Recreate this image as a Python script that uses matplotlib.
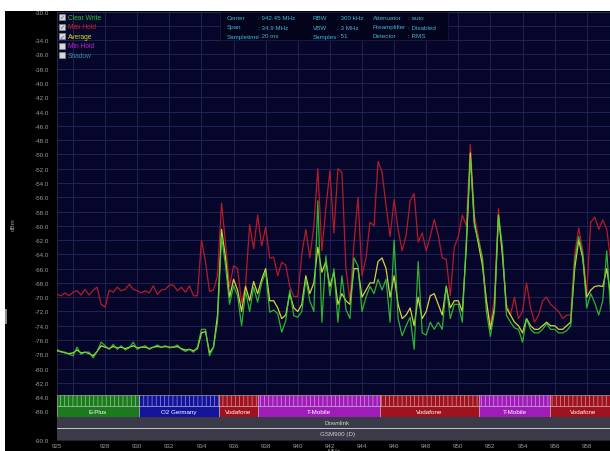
import numpy as np
import matplotlib
matplotlib.use("Agg")
import matplotlib.pyplot as plt
from matplotlib.patches import Rectangle
from matplotlib.ticker import MultipleLocator

plt.rcParams.update({
    "font.family": ["Liberation Sans", "DejaVu Sans"],
    "hatch.linewidth": 0.5,
})

W, H = 610, 452
BG, GRID, TXT = "#06062a", "#26265a", "#9c9c9c"
HDR = "#3cb8d0"

# ---- data ------------------------------------------------------------------
freqs = np.linspace(925.0, 959.75, 140)   # 0.25 MHz sample grid

max_hold = [
    -69.6, -69.8, -69.4, -69.8, -69.3, -69.1, -69.7, -68.9, -69.7, -69.0,
    -68.6, -71.0, -71.4, -69.0, -69.3, -68.6, -69.1, -68.9, -68.2, -68.9,
    -69.1, -69.4, -69.1, -69.4, -68.4, -69.6, -69.0, -68.9, -68.3, -68.3,
    -69.1, -68.6, -69.3, -68.4, -69.8, -69.8, -62.0, -65.0, -69.2, -69.0,
    -67.0, -56.8, -62.5, -68.5, -65.6, -66.0, -70.8, -68.3, -59.8, -63.2,
    -58.5, -62.8, -60.2, -64.5, -64.4, -67.0, -65.1, -65.5, -68.5, -69.9,
    -69.9, -64.0, -60.5, -64.5, -60.0, -52.0, -63.5, -57.5, -52.3, -61.0,
    -52.0, -52.5, -66.0, -70.5, -62.5, -56.0, -67.0, -64.5, -59.5, -60.0,
    -51.0, -52.5, -57.2, -61.5, -56.3, -60.5, -63.5, -61.3, -56.5, -55.5,
    -62.3, -61.0, -63.5, -61.5, -59.1, -61.3, -64.5, -64.7, -69.8, -63.0,
    -61.5, -58.5, -60.0, -48.6, -58.5, -61.5, -64.5, -70.5, -74.0, -70.0,
    -57.6, -64.5, -71.0, -72.5, -70.0, -73.0, -72.0, -68.0, -71.5, -73.5,
    -72.5, -70.5, -70.0, -71.0, -71.5, -72.0, -73.0, -72.5, -72.5, -64.0,
    -60.3, -63.5, -69.5, -59.5, -58.8, -60.5, -59.2, -60.5, -65.0, -70.0,
]

clear_write = [
    -77.3, -77.7, -77.7, -78.0, -78.2, -77.0, -78.0, -77.7, -77.7, -78.5,
    -77.6, -76.3, -76.8, -77.3, -76.6, -77.3, -76.8, -77.4, -77.1, -76.3,
    -77.3, -77.0, -76.8, -77.3, -77.0, -76.7, -77.0, -76.8, -77.1, -77.0,
    -76.7, -77.3, -77.6, -77.3, -77.7, -77.0, -74.5, -74.5, -78.2, -77.0,
    -73.5, -61.5, -65.6, -71.0, -68.4, -69.8, -74.0, -69.2, -72.0, -68.6,
    -70.7, -68.0, -66.5, -72.1, -71.8, -72.3, -74.9, -73.3, -69.0, -72.6,
    -72.8, -72.0, -67.5, -70.5, -72.0, -56.5, -73.5, -64.2, -69.8, -66.0,
    -73.5, -67.0, -71.7, -73.0, -64.5, -65.6, -72.0, -70.0, -68.5, -69.5,
    -67.5, -69.0, -67.5, -73.5, -62.0, -73.0, -75.4, -74.0, -72.8, -77.3,
    -65.0, -75.0, -75.3, -73.5, -74.5, -73.5, -74.5, -68.4, -73.0, -71.0,
    -71.0, -73.5, -62.0, -50.4, -60.0, -62.0, -64.5, -72.0, -75.5, -72.0,
    -58.5, -63.0, -72.5, -73.5, -74.3, -74.5, -76.3, -73.0, -74.5, -75.0,
    -75.0, -74.5, -73.7, -74.5, -74.5, -75.0, -75.0, -74.7, -74.0, -65.0,
    -61.5, -64.0, -71.5, -69.5, -70.8, -72.5, -70.5, -63.5, -72.5, -73.0,
]

average = [
    -77.5, -77.6, -77.8, -77.9, -77.8, -77.4, -77.8, -77.7, -77.9, -78.2,
    -77.6, -76.8, -77.0, -77.2, -76.9, -77.1, -77.0, -77.2, -77.0, -76.8,
    -77.1, -77.0, -77.0, -77.2, -77.0, -76.9, -77.0, -76.9, -77.0, -77.0,
    -76.9, -77.2, -77.4, -77.3, -77.5, -77.2, -75.0, -74.8, -77.8, -77.0,
    -72.5, -60.5, -64.5, -70.0, -67.5, -69.0, -72.0, -68.5, -70.5, -67.8,
    -69.5, -67.5, -66.0, -70.5, -70.5, -71.5, -73.0, -72.5, -69.5, -71.5,
    -72.0, -71.0, -67.0, -69.5, -68.0, -63.0, -66.5, -65.0, -68.5, -66.5,
    -71.0, -69.5, -70.5, -71.0, -66.0, -66.0, -70.0, -69.0, -68.0, -68.0,
    -65.0, -64.5, -66.0, -70.0, -67.0, -71.0, -73.0, -72.5, -71.5, -74.0,
    -70.0, -73.0, -72.0, -69.8, -69.5, -71.0, -72.5, -68.5, -71.5, -70.5,
    -70.5, -72.0, -63.0, -49.8, -59.5, -62.5, -65.5, -70.5, -74.5, -71.5,
    -58.5, -64.0, -71.5, -72.5, -73.5, -74.0, -75.0, -73.0, -74.0, -74.5,
    -74.5, -74.0, -73.5, -74.0, -74.0, -74.5, -74.5, -74.0, -73.5, -66.0,
    -62.0, -64.5, -70.0, -69.0, -68.5, -68.4, -68.5, -66.0, -70.0, -71.0,
]

band_names = ["E-Plus", "O2 Germany", "Vodafone", "T-Mobile", "Vodafone", "T-Mobile", "Vodafone"]
band_edges = [925.0, 930.1, 935.1, 937.5, 945.1, 951.3, 955.7, 959.9]
band_colors = ["#1b7a1b", "#13139c", "#a0121e", "#a01cb8", "#a0121e", "#a01cb8", "#a0121e"]

yticks = [-30, -34, -36, -38, -40, -42, -44, -46, -48, -50, -52, -54, -56, -58, -60,
          -62, -64, -66, -68, -70, -72, -74, -76, -78, -80, -82, -84, -86, -90]
xticks = [925, 928, 930, 932, 934, 936, 938, 940, 942, 944, 946, 948, 950, 952, 954, 956, 958]

header = [
    [("Center", ": 942.45 MHz"), ("Span", ": 34.9 MHz"), ("Sampletime", ": 20 ms")],
    [("RBW", ": 300 kHz"), ("VBW", ": 3 MHz"), ("Samples", ": 51")],
    [("Attenuator", ": auto"), ("Preamplifier", ": Disabled"), ("Detector", ": RMS")],
]
legend_items = [("Clear Write", "#2ec42e", True), ("Max Hold", "#d42020", True),
                ("Average", "#d8d828", True), ("Min Hold", "#c020d0", False),
                ("Shadow", "#3a8aa0", False)]


def fx(x):
    return x / W


def fy(y):
    return 1 - y / H


# ---- figure ----------------------------------------------------------------
fig = plt.figure(figsize=(W / 100, H / 100), dpi=100, facecolor="black")
ax = fig.add_axes([fx(57), fy(441), 553 / W, (441 - 12.6) / H])
ax.set_facecolor(BG)
ax.set_xlim(925, 959.45)
ax.set_ylim(-90, -30)

# grid every 2 MHz / 2 dB, independent of which ticks carry labels
ax.xaxis.set_minor_locator(MultipleLocator(2))
ax.yaxis.set_minor_locator(MultipleLocator(2))
ax.xaxis.remove_overlapping_locs = False
ax.yaxis.remove_overlapping_locs = False
ax.grid(which="minor", color=GRID, lw=0.6)
ax.grid(which="major", visible=False)
ax.set_axisbelow(True)
for s in ax.spines.values():
    s.set_color("#30304a")
    s.set_linewidth(0.5)

ax.set_yticks(yticks, labels=[f"{v:.1f}" for v in yticks])
ax.set_xticks(xticks, labels=[str(v) for v in xticks])
ax.tick_params(which="both", length=0, colors=TXT, labelsize=4.5)
ax.tick_params(axis="y", pad=6)
ax.tick_params(axis="x", pad=2)
ax.annotate("960", xy=(960, 0), xycoords=ax.get_xaxis_transform(), xytext=(0, -2),
            textcoords="offset points", ha="center", va="top", fontsize=4.5,
            color=TXT, annotation_clip=False)
ax.set_xlabel("MHz", color=TXT, fontsize=4.5, labelpad=0)

# traces
ax.plot(freqs, max_hold, color="#b51a2a", lw=0.9, zorder=3)
ax.plot(freqs, average, color="#d4d43a", lw=0.9, zorder=4)
ax.plot(freqs, clear_write, color="#34d034", lw=0.9, alpha=0.85, zorder=5)

# operator band panel
for name, lo, hi, c in zip(band_names, band_edges[:-1], band_edges[1:], band_colors):
    ax.add_patch(Rectangle((lo, -85.2), hi - lo, 1.45, facecolor=c, hatch="||||",
                           edgecolor=(1, 1, 1, 0.55), lw=0.5, zorder=6))
    ax.add_patch(Rectangle((lo, -86.8), hi - lo, 1.6, facecolor=c,
                           edgecolor=(1, 1, 1, 0.55), lw=0.5, zorder=6))
    ax.text((lo + hi) / 2, -86.0, name, color="white", fontsize=4.5,
            ha="center", va="center", zorder=7, clip_on=True)

ax.add_patch(Rectangle((925, -88.3), 34.9, 1.5, facecolor="#3a3a48", lw=0, zorder=6))
ax.add_patch(Rectangle((925, -90), 34.9, 1.7, facecolor="#3a3a48", lw=0, zorder=6))
ax.axhline(-88.3, color="#c8c8d0", lw=0.7, zorder=7)
ax.text(942.45, -87.55, "Downlink", color="#d0d0d0", fontsize=4.5, ha="center",
        va="center", zorder=7)
ax.text(942.45, -89.15, "GSM900 (D)", color="#d0d0d0", fontsize=4.5, ha="center",
        va="center", zorder=7)

# white margins of the screenshot
fig.add_artist(Rectangle((0, fy(12)), 1, 12 / H, transform=fig.transFigure,
                         facecolor="white", lw=0, zorder=10))
fig.add_artist(Rectangle((0, 0), 5 / W, 1, transform=fig.transFigure,
                         facecolor="white", lw=0, zorder=10))
fig.add_artist(Rectangle((fx(5), fy(325)), 2 / W, 15 / H, transform=fig.transFigure,
                         facecolor="#8a8a8a", lw=0, zorder=10))
fig.text(fx(13), fy(225), "dBm", rotation=90, color=TXT, fontsize=4.5,
         ha="center", va="center")

# header box
fig.add_artist(Rectangle((fx(220), fy(41)), 228 / W, 28 / H, transform=fig.transFigure,
                         facecolor="#03031c", edgecolor="#1c1c3c", lw=0.5, zorder=8))
col_x = [(227, 258), (313, 337), (373, 408)]
for (kx, vx), col in zip(col_x, header):
    for row, (k, v) in enumerate(col):
        y = 19 + 9 * row
        fig.text(fx(kx), fy(y), k, color=HDR, fontsize=4.5, va="center", zorder=9)
        fig.text(fx(vx), fy(y), v, color=HDR, fontsize=4.5, va="center", zorder=9)

# trace legend with check boxes
for row, (label, c, checked) in enumerate(legend_items):
    y = 18 + 9.6 * row
    fig.add_artist(Rectangle((fx(59), fy(y + 3)), 6 / W, 6 / H, transform=fig.transFigure,
                             facecolor="#d8d8d8", edgecolor="#8a8a8a", lw=0.4, zorder=9))
    if checked:
        fig.text(fx(62), fy(y), "\u2713", color="#505060", fontsize=4.5, ha="center",
                 va="center", family="DejaVu Sans", zorder=10)
    fig.text(fx(68), fy(y), label, color=c, fontsize=4.8, va="center", zorder=9)

fig.savefig("out.png", dpi=100, facecolor=fig.get_facecolor())
